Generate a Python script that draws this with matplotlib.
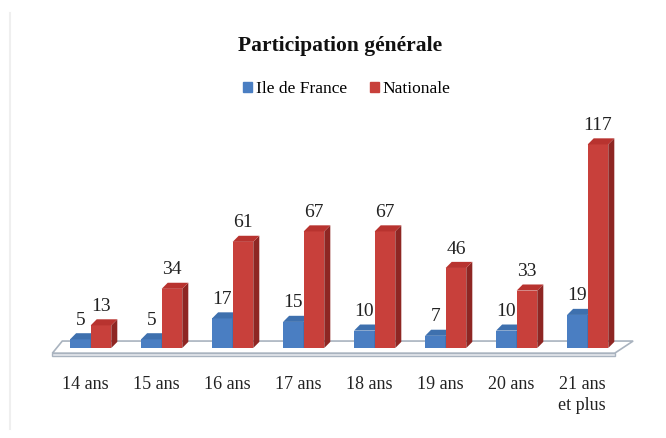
import matplotlib
matplotlib.use("Agg")
import matplotlib.pyplot as plt
from matplotlib.patches import Polygon
import numpy as np

categories = ["14 ans", "15 ans", "16 ans", "17 ans", "18 ans", "19 ans", "20 ans", "21 ans\net plus"]
ile_de_france = [5, 5, 17, 15, 10, 7, 10, 19]
nationale = [13, 34, 61, 67, 67, 46, 33, 117]
series_names = ["Ile de France", "Nationale"]

plt.rcParams['font.family'] = ['Liberation Serif', 'DejaVu Serif']

fig = plt.figure(figsize=(6.66, 4.38), dpi=100)
W, H = 666, 438
ax_left, ax_right = 40, 650
ax_bottom_px, ax_top_px = 360, 130
ax = fig.add_axes([ax_left / W, 1 - ax_bottom_px / H, (ax_right - ax_left) / W, (ax_bottom_px - ax_top_px) / H])
px_per_unit_x = 71.0
px_per_val = 1.74
x0_px = 85
ax.set_xlim((ax_left - x0_px) / px_per_unit_x, (ax_right - x0_px) / px_per_unit_x)
ax.set_ylim(-(ax_bottom_px - 348) / px_per_val, (348 - ax_top_px) / px_per_val)
ax.axis('off')

x = np.arange(len(categories))
bw = 0.29
shift = 0.08
dx = 0.085
dy = 3.5

front_colors = ["#4A7EC2", "#C8403B"]
side_colors = ["#2F5E97", "#8E2623"]
top_colors = ["#3E70AE", "#B8332F"]

# floor
fl_front, fl_back = -3.0, 4.0
floor = Polygon([(-0.46, fl_front), (7.46, fl_front), (7.72, fl_back), (-0.32, fl_back)],
                closed=True, facecolor="white", edgecolor="#A9B3BF", linewidth=1.2, zorder=1)
ax.add_patch(floor)
slab = Polygon([(-0.46, fl_front), (7.46, fl_front), (7.46, fl_front - 1.6), (-0.46, fl_front - 1.6)],
               closed=True, facecolor="#E6E9EE", edgecolor="#A9B3BF", linewidth=1.0, zorder=1)
ax.add_patch(slab)

for si, vals in enumerate([ile_de_france, nationale]):
    xs = x + shift + (si - 0.5) * bw
    ax.bar(xs, vals, width=bw, color=front_colors[si], zorder=3 + si, label=series_names[si])
    for xc, v in zip(xs, vals):
        xl, xr = xc - bw / 2, xc + bw / 2
        side = Polygon([(xr, 0), (xr + dx, dy), (xr + dx, v + dy), (xr, v)], closed=True,
                       facecolor=side_colors[si], edgecolor='none', zorder=3 + si)
        top = Polygon([(xl, v), (xl + dx, v + dy), (xr + dx, v + dy), (xr, v)], closed=True,
                      facecolor=top_colors[si], edgecolor='none', zorder=3 + si)
        ax.add_patch(side)
        ax.add_patch(top)
        ax.text(xc, v + dy + 2.5, str(v), ha='center', va='bottom', fontsize=14, color="#222222", zorder=6)

# category labels
for xi, lab in zip(x, categories):
    ax.text(xi, -16, lab, ha='center', va='top', fontsize=13, color="#222222", linespacing=1.3)

fig.text(340 / W, 1 - 46 / H, "Participation générale", ha='center', va='center',
         fontsize=15.5, fontweight='bold', color="#111111")

handles = [plt.Rectangle((0, 0), 1, 1, color=c) for c in front_colors]
fig.legend(handles, series_names, loc='center', bbox_to_anchor=(347 / W, 1 - 89 / H), ncol=2,
           frameon=False, fontsize=12.5, handlelength=0.5, handleheight=0.5, handletextpad=0.25,
           columnspacing=1.3)

fig.add_artist(plt.Line2D([10 / W, 10 / W], [0.02, 0.97], color="#EFEFEF", linewidth=1.5))

fig.savefig("out.png", dpi=100)
